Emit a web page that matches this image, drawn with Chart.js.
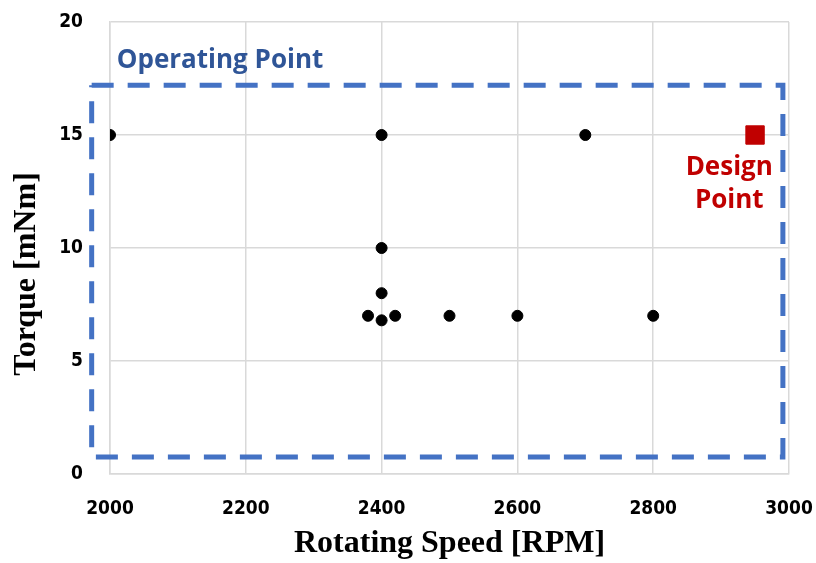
<!DOCTYPE html>
<html>
<head>
<meta charset="utf-8">
<script src="https://cdn.jsdelivr.net/npm/chart.js@4.4.0/dist/chart.umd.min.js"></script>
<style>
  html, body { margin: 0; padding: 0; background: #fff; }
  #wrap { width: 816px; height: 563px; }
</style>
</head>
<body>
<div id="wrap"><canvas id="torqueChart" width="816" height="563"></canvas></div>
<script>
// --- data ---
const speedTicks = [2000, 2200, 2400, 2600, 2800, 3000];
const torqueTicks = [0, 5, 10, 15, 20];

const testSpeed  = [2000, 2400, 2700, 2400, 2400, 2380, 2420, 2400, 2500, 2600, 2800];
const testTorque = [15,   15,   15,   10,   8,    7,    7,    6.8,  7,    7,    7];

const designSpeed = [2950];
const designTorque = [15];

// operating region (dashed box corners)
const boxSpeed  = [1973, 2991, 2991, 1973, 1973];
const boxTorque = [17.2, 17.2, 0.75, 0.75, 17.2];

const toPoints = (xs, ys) => xs.map((x, i) => ({ x: x, y: ys[i] }));
const tickFont = { family: '"DejaVu Sans Condensed", "DejaVu Sans", sans-serif', weight: 'bold', size: 19 };

// tick padding otherwise leaks into the layout's edge padding
function clearAxisPadding(axis) {
  axis.paddingTop = 0;
  axis.paddingBottom = 0;
  axis.paddingLeft = 0;
  axis.paddingRight = 0;
}

// text labels pinned to data coordinates (y title sits below axis centre in the original)
const textLabels = {
  id: 'textLabels',
  afterDatasetsDraw(chart) {
    const { ctx, scales } = chart;
    const x = scales.x, y = scales.y;
    ctx.save();
    ctx.font = 'bold 26px "Open Sans", "Noto Sans", sans-serif';
    ctx.fillStyle = '#2F5597';
    ctx.textAlign = 'left';
    ctx.textBaseline = 'middle';
    ctx.fillText('Operating Point', x.getPixelForValue(2010), y.getPixelForValue(18.3));

    ctx.fillStyle = '#C00000';
    ctx.textAlign = 'center';
    ctx.fillText('Design', x.getPixelForValue(2912), y.getPixelForValue(13.55));
    ctx.fillText('Point', x.getPixelForValue(2912), y.getPixelForValue(12.1));

    // y axis title
    ctx.translate(27, y.getPixelForValue(8.85));
    ctx.rotate(-Math.PI / 2);
    ctx.font = 'bold 32px "Liberation Serif", serif';
    ctx.fillStyle = '#000';
    ctx.fillText('Torque [mNm]', 0, 0);
    ctx.restore();
  }
};

document.addEventListener('DOMContentLoaded', function () {
  const canvas = document.getElementById('torqueChart');

  new Chart(canvas.getContext('2d'), {
    type: 'scatter',
    data: {
      datasets: [
        {
          label: 'Operating box',
          data: toPoints(boxSpeed, boxTorque),
          showLine: true,
          borderColor: '#4472C4',
          borderWidth: 5,
          borderDash: [22, 14],
          pointRadius: 0,
          fill: false,
          clip: false,
          order: 3
        },
        {
          label: 'Test points',
          data: toPoints(testSpeed, testTorque),
          backgroundColor: '#000',
          borderColor: '#000',
          pointRadius: 5.5,
          order: 1
        },
        {
          label: 'Design point',
          data: toPoints(designSpeed, designTorque),
          pointStyle: 'rect',
          backgroundColor: '#C00000',
          borderColor: '#C00000',
          pointRadius: 13,
          order: 2
        }
      ]
    },
    options: {
      responsive: false,
      animation: false,
      layout: { autoPadding: false, padding: { top: 22, right: 27, left: 0, bottom: 0 } },
      plugins: {
        legend: { display: false },
        tooltip: { enabled: false }
      },
      scales: {
        x: {
          type: 'linear',
          min: 2000,
          max: 3000,
          afterBuildTicks: (axis) => { axis.ticks = speedTicks.map(v => ({ value: v })); },
          afterFit: (axis) => { axis.height = 89; clearAxisPadding(axis); },
          grid: { color: '#D9D9D9', lineWidth: 1.5, drawTicks: false },
          border: { color: '#D9D9D9', width: 1.5 },
          ticks: {
            color: '#000',
            padding: 24,
            font: tickFont,
            callback: (v) => String(v)
          },
          title: {
            display: true,
            text: 'Rotating Speed [RPM]',
            color: '#000',
            padding: { top: 0, bottom: 0 },
            font: { family: '"Liberation Serif", serif', weight: 'bold', size: 32 }
          }
        },
        y: {
          type: 'linear',
          min: 0,
          max: 20,
          afterBuildTicks: (axis) => { axis.ticks = torqueTicks.map(v => ({ value: v })); },
          afterFit: (axis) => { axis.width = 110; clearAxisPadding(axis); },
          grid: { color: '#D9D9D9', lineWidth: 1.5, drawTicks: false },
          border: { color: '#D9D9D9', width: 1.5 },
          ticks: {
            color: '#000',
            padding: 27,
            font: tickFont,
            callback: (v) => String(v)
          },
          title: { display: false }
        }
      }
    },
    plugins: [textLabels]
  });
});
</script>
</body>
</html>
